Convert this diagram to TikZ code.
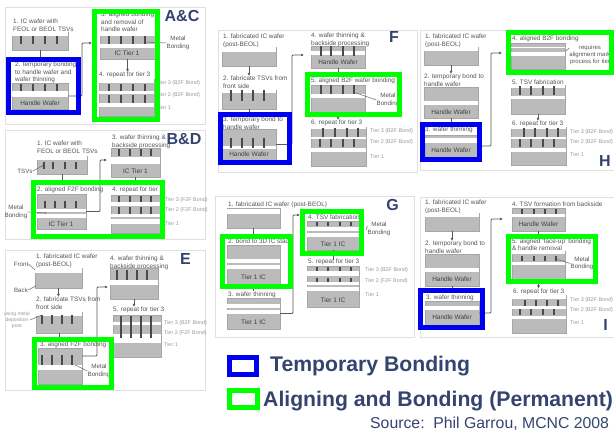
\documentclass[tikz,border=0pt]{standalone}
\usepackage{fontspec}
\setmainfont{Liberation Sans}
\usepackage{xcolor}
\usetikzlibrary{arrows.meta,positioning,calc,shadows}
\definecolor{tempblue}{HTML}{0000F0}
\definecolor{bondgreen}{HTML}{00FF00}
\definecolor{slate}{HTML}{34446F}
\definecolor{slabgrey}{HTML}{BBBBBB}
\definecolor{tsvgrey}{HTML}{4A4A4A}
\definecolor{inktext}{HTML}{555555}

\newcommand{\cornerbox}[6]{\node[#1, minimum width={(#5-#3)*1pt}, minimum height={(#6-#4)*1pt}] (#2) at (#3,#4) {};}
\newcommand{\wafer}[6]{%
  \cornerbox{slab}{#1}{#2}{#3}{#4}{#5}
  \foreach \ya/\yb in {#6} \fill[white] (#2,\ya) rectangle (#4,\yb);
}
\newcommand{\tsvs}[3]{\foreach \tx in {#1} \fill[tsvgrey] (\tx-1.2,#2) rectangle (\tx+1.2,#3);}

\begin{document}
\begin{tikzpicture}[
  x=1pt, y=-1pt,
  cornerbase/.style={anchor=north west, inner sep=0pt, outer sep=0pt},
  sheet/.style={cornerbase, draw=black!12, fill=white, drop shadow={shadow xshift=.8pt, shadow yshift=-1pt, opacity=.45}},
  slab/.style={cornerbase, draw=black!35, line width=.3pt, fill=slabgrey},
  tempframe/.style={cornerbase, draw=tempblue, line width=5pt},
  bondframe/.style={cornerbase, draw=bondgreen, line width=5pt},
  steptext/.style={anchor=north west, inner sep=0pt, yshift=-1pt, align=left, text=inktext, font=\fontsize{6.4}{7.4}\selectfont},
  tierlabel/.style={anchor=west, inner sep=0pt, text=black!40, font=\fontsize{5.4}{6}\selectfont},
  slabtext/.style={inner sep=0pt, text=black!75, font=\fontsize{6.5}{7}\selectfont},
  sidetext/.style={inner sep=0pt, align=center, text=inktext, font=\fontsize{6.2}{7.5}\selectfont},
  tag/.style={inner sep=0pt, text=slate, font=\bfseries\fontsize{16}{17}\selectfont},
  legend/.style={anchor=west, inner sep=0pt, text=slate, font=\bfseries\fontsize{21.2}{23}\selectfont},
  link/.style={draw=black!65, line width=.8pt, rounded corners=1pt},
  arr/.style={link, -{Latex[length=3pt,width=3pt]}},
  lead/.style={draw=black!60, line width=.5pt}
]
  \useasboundingbox (0,0) rectangle (614,433);

  \cornerbox{sheet}{pac}{5}{7}{205}{124}
  \cornerbox{sheet}{pbd}{5}{130}{205}{239}
  \cornerbox{sheet}{pe}{5}{250}{205}{390}
  \cornerbox{sheet}{pf}{218}{30}{417}{172}
  \cornerbox{sheet}{ph}{420}{30}{620}{170}
  \cornerbox{sheet}{pg}{215}{196}{414}{337}
  \cornerbox{sheet}{pi}{420}{197}{620}{337}

  \node[steptext] (ac1c) at (13,18) {1. IC wafer with\\FEOL or BEOL TSVs};
  \wafer{ac1}{12}{32}{68}{50}{32/36}
  \tsvs{21,33,45,57}{36.5}{44}
  \node[steptext] (ac2c) at (15,61) {2. temporary bonding\\to handle wafer and\\wafer thinning};
  \wafer{ac2}{12}{83}{68}{109}{91/97}
  \tsvs{21,33,45,57}{84}{91}
  \node[slabtext] (ac2t) at (40,103) {Handle Wafer};
  \node[steptext] (ac3c) at (101,11) {3. aligned bonding\\and removal of\\handle wafer};
  \wafer{ac3}{100}{32}{155}{59}{32/36,44/48}
  \tsvs{109,121,133,145}{36.5}{44}
  \node[slabtext] (ac3t) at (127,53.5) {IC Tier 1};
  \node[steptext] (ac4c) at (99,71) {4. repeat for tier 3};
  \wafer{ac4}{99}{79}{154}{116}{79/83,91/94,103/107}
  \tsvs{109,121,133,145}{84}{91}
  \tsvs{109,121,133,145}{95}{103}
  \node[tierlabel] (ac4a) at (157,83) {Tier 3 (B2F Bond)};
  \node[tierlabel] (ac4b) at (157,95) {Tier 2 (B2F Bond)};
  \node[tierlabel] (ac4d) at (157,108) {Tier 1};
  \node[sidetext] (acm) at (178,43) {Metal\\Bonding};
  \coordinate (acmt) at (146,42);
  \draw[lead] (acm.west) -- (acmt);
  \node[tag] (actag) at (182,16) {A\&C};
  \coordinate (acin) at (92,43);
  \coordinate (acturn) at (82,43);
  \draw[link] (ac1.south) -- ++(0,7);
  \draw[arr] (ac2.east) -| (acturn) -- (acin);
  \draw[arr] (ac3.south) -- (ac4c.north -| ac3.south);

  \node[steptext] (bd1c) at (37,140) {1. IC wafer with\\FEOL or BEOL TSVs};
  \wafer{bd1}{37}{156}{87}{174}{156/160}
  \tsvs{44,53,65,76}{162}{169}
  \node[sidetext] (bdts) at (25,171) {TSVs};
  \coordinate (bdtst) at (44,165);
  \draw[lead, -{Latex[length=2pt]}] (bdts.east) -- (bdtst);
  \node[steptext] (bd3c) at (112,134) {3. wafer thinning \&\\backside processing};
  \wafer{bd3}{111}{148}{160}{177}{157/164}
  \tsvs{119,130,141,151}{149}{156}
  \node[slabtext] (bd3t) at (135.5,171) {IC Tier 1};
  \node[steptext] (bd2c) at (37,186) {2. aligned F2F bonding};
  \wafer{bd2}{37}{194}{86}{229}{209/212,214/218}
  \tsvs{45,55,65,76}{201}{208}
  \node[slabtext] (bd2t) at (61,224) {IC Tier 1};
  \node[steptext] (bd4c) at (112,186) {4. repeat for tier 3};
  \wafer{bd4}{111}{195}{160}{233}{202/206,214/217,219/224}
  \tsvs{119,130,141,151}{196}{202}
  \tsvs{119,130,141,151}{207}{214}
  \node[tierlabel] (bd4a) at (165,200) {Tier 3 (F2F Bond)};
  \node[tierlabel] (bd4b) at (165,210) {Tier 2 (F2F Bond)};
  \node[tierlabel] (bd4d) at (165,224) {Tier 1};
  \node[sidetext] (bdm) at (16,212) {Metal\\Bonding};
  \coordinate (bdmt) at (47,213);
  \draw[lead, -{Latex[length=2pt]}] (bdm.east) -- (bdmt);
  \node[tag] (bdtag) at (184,139) {B\&D};
  \coordinate (bdin) at (107,160);
  \coordinate (bdturn) at (100,160);
  \draw[link] (bd1.south) -- ++(0,6);
  \draw[link] (bd3.south) -- ++(0,5);
  \draw[arr] (bd2.east) -| (bdturn) -- (bdin);

  \node[steptext] (e1c) at (36,253) {1. fabricated IC wafer\\(post-BEOL)};
  \wafer{e1}{35}{268}{82}{288}{268/273}
  \node[sidetext] (efr) at (21,264) {Front};
  \node[sidetext] (ebk) at (21,290) {Back};
  \coordinate (efrt) at (35,270);
  \coordinate (ebkt) at (36,286);
  \draw[lead] (efr.east) -- (efrt);
  \draw[lead] (ebk.east) -- (ebkt);
  \node[steptext] (e2c) at (36,296) {2. fabricate TSVs from\\front side};
  \wafer{e2}{36}{312}{82}{333}{312/316}
  \tsvs{42,52,62,72}{315}{324}
  \node[sidetext, text=black!40, font=\fontsize{5}{6}\selectfont] (esd) at (17,320) {using metal\\deposition\\pore};
  \coordinate (esdt) at (42,315);
  \draw[lead] (esd.east) -- (esdt);
  \node[steptext] (e3c) at (40,341) {3. aligned F2F bonding};
  \wafer{e3}{38}{348}{82}{384}{365/370}
  \tsvs{42,52,62,72}{355}{365}
  \node[sidetext] (em) at (99,371) {Metal\\Bonding};
  \coordinate (emt) at (75,365);
  \draw[lead] (em.west) -- (emt);
  \node[steptext] (e4c) at (110,255) {4. wafer thinning \&\\backside processing};
  \wafer{e4}{110}{268}{158}{299}{280/285}
  \tsvs{117,127,137,147}{270}{280}
  \node[steptext] (e5c) at (113,306) {5. repeat for tier 3};
  \wafer{e5}{113}{315}{161}{357}{322/325,334/338,338/343}
  \tsvs{121,131,141,151}{316}{338}
  \node[tierlabel] (e5a) at (164,323) {Tier 3 (B2F Bond)};
  \node[tierlabel] (e5b) at (164,333) {Tier 2 (F2F Bond)};
  \node[tierlabel] (e5d) at (164,345) {Tier 1};
  \node[tag] (etag) at (185.5,259) {E};
  \coordinate (ein) at (108,287);
  \coordinate (eturn) at (97,287);
  \draw[arr] (e1.south) -- (e2c.north -| e1.south);
  \draw[link] (e2.south) -- ++(0,5);
  \draw[arr] (e4.south) -- (e5c.north -| e4.south);
  \draw[arr] (e3.east |- 0,356) -| (eturn) -- (ein);

  \node[steptext] (f1c) at (223,33) {1. fabricated IC wafer\\(post-BEOL)};
  \wafer{f1}{222}{47}{276}{66}{47/52}
  \node[steptext] (f2c) at (223,75) {2. fabricate TSVs from\\front side};
  \wafer{f2}{222}{90}{276}{109}{90/93}
  \tsvs{231,242,253,264}{90}{101}
  \node[steptext] (f3c) at (223,116) {3. temporary bond to\\handle wafer};
  \wafer{f3}{222}{129}{276}{160}{146/149}
  \tsvs{231,242,253,264}{138}{148}
  \node[slabtext] (f3t) at (249,154.5) {Handle Wafer};
  \node[steptext] (f4c) at (311,32) {4. wafer thinning \&\\backside processing};
  \wafer{f4}{311}{46}{365}{68}{51/55}
  \tsvs{321,331,343,354}{46}{56}
  \node[slabtext] (f4t) at (338,62) {Handle Wafer};
  \node[steptext] (f5c) at (311,77) {5. aligned B2F wafer bonding};
  \wafer{f5}{311}{85}{365}{112}{94/98}
  \tsvs{321,331,343,354}{85}{94}
  \node[sidetext] (fm) at (388,100) {Metal\\Bonding};
  \coordinate (fmt) at (356,93);
  \draw[lead] (fm.west) -- (fmt);
  \node[steptext] (f6c) at (311,119) {6. repeat for tier 3};
  \wafer{f6}{311}{127}{366}{166}{127/129,137/139,148/152}
  \tsvs{323,335,347,358}{128}{137}
  \tsvs{320,331,343,354}{139}{147}
  \node[tierlabel] (f6a) at (370,131) {Tier 3 (B2F Bond)};
  \node[tierlabel] (f6b) at (370,142) {Tier 2 (B2F Bond)};
  \node[tierlabel] (f6d) at (370,157) {Tier 1};
  \node[tag] (ftag) at (394,37) {F};
  \coordinate (fin) at (304,55);
  \coordinate (fturn) at (292,55);
  \draw[arr] (f1.south) -- (f2c.north -| f1.south);
  \draw[link] (f2.south) -- ++(0,5);
  \draw[arr] (f3.east) -| (fturn) -- (fin);
  \draw[link] (f4.south) -- ++(0,5);
  \draw[arr] (f5.south) -- (f6c.north -| f5.south);

  \node[steptext] (h1c) at (425,33) {1. fabricated IC wafer\\(post-BEOL)};
  \wafer{h1}{424}{47}{478}{65}{47/51}
  \node[steptext] (h2c) at (424,73) {2. temporary bond to\\handle wafer};
  \wafer{h2}{424}{87}{478}{118}{101/105}
  \node[slabtext] (h2t) at (451,112) {Handle Wafer};
  \node[steptext] (h3c) at (425,126) {3. wafer thinning};
  \wafer{h3}{425}{135}{477}{157}{138/143}
  \node[slabtext] (h3t) at (451,150) {Handle Wafer};
  \node[steptext] (h4c) at (512,35) {4. aligned B2F bonding};
  \wafer{h4}{511}{43}{565}{69}{47/47.6,52/56}
  \node[sidetext, font=\fontsize{6}{6.6}\selectfont] (hm) at (590,55) {requires\\alignment mark\\process for tier};
  \coordinate (hmt) at (566,51);
  \draw[lead] (hm.west |- 0,48) -- (hmt);
  \node[steptext] (h5c) at (512,78.5) {5. TSV fabrication};
  \wafer{h5}{511}{85}{565}{114}{85/88,96/99}
  \tsvs{520,531,543,554}{86}{95}
  \node[steptext] (h6c) at (512,120) {6. repeat for tier 3};
  \wafer{h6}{511}{127}{566}{165}{127/129,137/139,148/152}
  \tsvs{524,535,547,558}{128}{137}
  \tsvs{520,531,543,554}{139}{147}
  \node[tierlabel] (h6a) at (570,132) {Tier 3 (B2F Bond)};
  \node[tierlabel] (h6b) at (570,142) {Tier 2 (B2F Bond)};
  \node[tierlabel] (h6d) at (570,155) {Tier 1};
  \node[tag] (htag) at (605,161) {H};
  \coordinate (hin) at (502,53);
  \coordinate (hturn) at (491,53);
  \draw[arr] (h1.south) -- (h2c.north -| h1.south);
  \draw[link] (h2.south) -- ++(0,4);
  \draw[arr] (h3.east) -| (hturn) -- (hin);
  \draw[arr] (h5.south) -- (h6c.north -| h5.south);

  \node[steptext] (g1c) at (228,201) {1. fabricated IC wafer (post-BEOL)};
  \wafer{g1}{227}{208}{280}{228}{209/214}
  \node[steptext] (g2c) at (228,237.5) {2. bond to 3D IC stack};
  \wafer{g2}{227}{245}{280}{284}{259/263,265/269}
  \node[slabtext] (g2t) at (253.5,277) {Tier 1 IC};
  \node[steptext] (g3c) at (228,291) {3. wafer thinning};
  \wafer{g3}{227}{298}{280}{329}{304/308,310/314}
  \node[slabtext] (g3t) at (253.5,322) {Tier 1 IC};
  \node[steptext] (g4c) at (308,213.5) {4. TSV fabrication};
  \wafer{g4}{307}{221}{359}{250}{227/231,233/237}
  \tsvs{317,328,340,351}{222}{226}
  \node[slabtext] (g4t) at (333,244) {Tier 1 IC};
  \node[sidetext] (gm) at (379,229) {Metal\\Bonding};
  \coordinate (gmt) at (366,230);
  \draw[lead] (gm.west |- 0,226) -- (gmt);
  \node[steptext] (g5c) at (308,258) {5. repeat for tier 3};
  \wafer{g5}{307}{266}{359}{307}{271/276,282/285,287/291}
  \tsvs{317,328,340,351}{267}{271}
  \tsvs{317,328,340,351}{278}{282}
  \node[slabtext] (g5t) at (333,300) {Tier 1 IC};
  \node[tierlabel] (g5a) at (365,270) {Tier 3 (B2F Bond)};
  \node[tierlabel] (g5b) at (365,281) {Tier 2 (F2F Bond)};
  \node[tierlabel] (g5d) at (365,295) {Tier 1};
  \node[tag] (gtag) at (392.5,205) {G};
  \coordinate (gin) at (300,215);
  \coordinate (gturn) at (293,215);
  \draw[link] (g1.south) -- ++(0,7);
  \draw[link] (g2.south) -- ++(0,7);
  \draw[arr] (g3.east) -| (gturn) -- (gin);
  \draw[link] (g4.south) -- ++(0,10);

  \node[steptext] (i1c) at (425,199) {1. fabricated IC wafer\\(post-BEOL)};
  \wafer{i1}{425}{213}{479}{231}{213/217}
  \node[steptext] (i2c) at (425,240) {2. temporary bond to\\handle wafer};
  \wafer{i2}{425}{254}{479}{286}{268/272}
  \node[slabtext] (i2t) at (452,279) {Handle Wafer};
  \node[steptext] (i3c) at (426,293.5) {3. wafer thinning};
  \wafer{i3}{425}{301}{479}{325}{306/310}
  \node[slabtext] (i3t) at (452,317) {Handle Wafer};
  \node[steptext] (i4c) at (512,200.5) {4. TSV formation from backside};
  \wafer{i4}{512}{208}{565}{231}{214/217}
  \tsvs{522,534,545,556}{209}{214}
  \node[slabtext] (i4t) at (538.5,224) {Handle Wafer};
  \node[steptext] (i5c) at (512,237.5) {5. aligned `face-up' bonding\\\& handle removal};
  \wafer{i5}{512}{251}{565}{279}{251/254,262/265}
  \tsvs{522,534,545,556}{256}{261}
  \node[sidetext] (im) at (582,263.5) {Metal\\Bonding};
  \coordinate (imt) at (556,259);
  \draw[lead] (im.west) -- (imt);
  \node[steptext] (i6c) at (513,287.5) {6. repeat for tier 3};
  \wafer{i6}{512}{295}{566}{333}{295/299,306/309,316/319}
  \tsvs{525,536,547,558}{300}{306}
  \tsvs{520,531,543,554}{309}{315}
  \node[tierlabel] (i6a) at (570,300) {Tier 3 (B2F Bond)};
  \node[tierlabel] (i6b) at (570,310) {Tier 2 (B2F Bond)};
  \node[tierlabel] (i6d) at (570,323) {Tier 1};
  \node[tag] (itag) at (605.5,325) {I};
  \coordinate (iin) at (503,219);
  \coordinate (iturn) at (491,219);
  \draw[arr] (i1.south) -- (i2c.north -| i1.south);
  \draw[link] (i2.south) -- ++(0,2);
  \draw[arr] (i3.east) -| (iturn) -- (iin);
  \draw[link] (i4.south) -- ++(0,3);
  \draw[arr] (i5.south) -- (i6c.north -| i5.south);

  \cornerbox{tempframe}{acb}{8.5}{59.5}{78.5}{112.5}
  \cornerbox{bondframe}{acg}{94.5}{11.5}{157.5}{119.5}
  \cornerbox{bondframe}{bdg}{33.5}{182.5}{162.5}{236.5}
  \cornerbox{bondframe}{eg}{34.5}{339.5}{111.5}{387.5}
  \cornerbox{tempframe}{fb}{220.5}{114.5}{289.5}{162.5}
  \cornerbox{bondframe}{fg}{307.5}{74.5}{399.5}{114.5}
  \cornerbox{tempframe}{hb}{422.5}{124.5}{479.5}{159.5}
  \cornerbox{bondframe}{hg}{508.5}{32.5}{611.5}{72.5}
  \cornerbox{bondframe}{gga}{222.5}{236.5}{290.5}{286.5}
  \cornerbox{bondframe}{ggb}{302.5}{211.5}{361.5}{253.5}
  \cornerbox{tempframe}{ib}{420.5}{290.5}{482.5}{327.5}
  \cornerbox{bondframe}{ig}{508.5}{236.5}{595.5}{281.5}

  \cornerbox{tempframe}{legb}{229.5}{357.5}{256.5}{374.5}
  \cornerbox{bondframe}{legg}{229.5}{390.5}{257.5}{407.5}
  \node[legend] (legbt) at (270,366.5) {Temporary Bonding};
  \node[legend] (leggt) at (263,401.5) {Aligning and Bonding (Permanent)};
  \node[inner sep=0pt, anchor=west, text=slate, font=\fontsize{15.8}{17}\selectfont] (src) at (370,424) {Source:\ \ Phil Garrou, MCNC 2008};
\end{tikzpicture}
\end{document}
